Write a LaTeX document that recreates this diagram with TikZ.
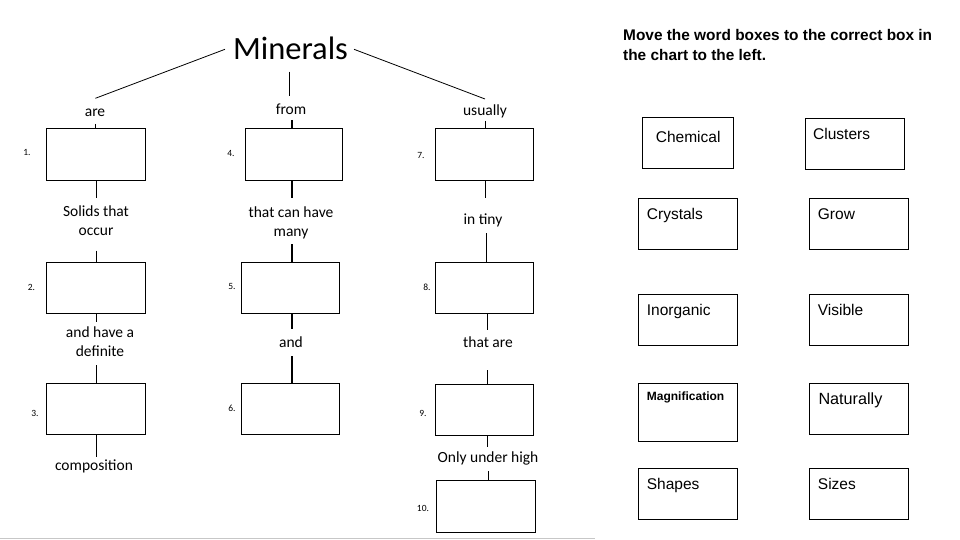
\documentclass[tikz,border=0pt]{standalone}
\usepackage{fontspec}
\setmainfont{Carlito}
\newfontfamily\arialf{Liberation Sans}
\begin{document}
\begin{tikzpicture}[x=1pt,y=-1pt,
  box/.style={draw, line width=1pt, minimum width=98pt, minimum height=51pt, inner sep=0pt},
  lbl/.style={font=\fontsize{15.5}{19}\selectfont, inner sep=0pt, align=center, anchor=base},
  num/.style={font=\fontsize{9.5}{11}\selectfont, inner sep=0pt},
  wtxt/.style={font=\arialf\fontsize{15.5}{18}\selectfont, inner sep=0pt, anchor=base west},
  conn/.style={line width=0.8pt},
  connb/.style={line width=1.7pt}]
\useasboundingbox (0,0) rectangle (960,540);

% title
\node[font=\fontsize{32.5}{36}\selectfont, inner sep=0pt, anchor=base] (minerals) at (290.5,59.3) {Minerals};
\coordinate (mL1) at (225,49.3); \coordinate (mL2) at (95.4,98.3);
\coordinate (mM1) at (289,71.7); \coordinate (mM2) at (289,96);
\coordinate (mR1) at (354,49.3); \coordinate (mR2) at (485,99);
\draw[conn] (mL1) -- (mL2);
\draw[conn] (mM1) -- (mM2);
\draw[conn] (mR1) -- (mR2);

% labels (base = baseline of the last line)
\node[lbl] (are) at (95,116.7) {are};
\node[lbl] (from) at (291,114.3) {from};
\node[lbl] (usually) at (485,116) {usually};
\node[lbl] (solids) at (96,235.7) {Solids that\\occur};
\node[lbl] (tch) at (291,236) {that can have\\many};
\node[lbl] (tiny) at (483,224.3) {in tiny};
\node[lbl] (hav) at (100,356) {and have a\\definite};
\node[lbl] (and) at (291,347.7) {and};
\node[lbl] (tare) at (488,347.7) {that are};
\node[lbl] (comp) at (94,470) {composition};
\node[lbl] (only) at (488,462) {Only under high};

% boxes
\node[box, minimum width=99pt, minimum height=52pt] (b1) at (95.5,155) {};
\node[box, minimum width=99pt] (b2) at (95.5,287.5) {};
\node[box, minimum width=99pt] (b3) at (95.5,408.5) {};
\node[box, minimum width=97pt, minimum height=52pt] (b4) at (293.5,155) {};
\node[box] (b5) at (290,287.5) {};
\node[box] (b6) at (290,408.5) {};
\node[box, minimum height=52pt] (b7) at (484,155) {};
\node[box] (b8) at (484,287.5) {};
\node[box] (b9) at (484,409.5) {};
\node[box, minimum width=98.5pt, minimum height=52pt] (b10) at (485.75,506) {};

% numbers
\node[num] (n1) at (27,152) {1.};
\node[num] (n4) at (231,153) {4.};
\node[num] (n7) at (421,155) {7.};
\node[num] (n2) at (31.5,287) {2.};
\node[num] (n5) at (232,286) {5.};
\node[num] (n8) at (427,287) {8.};
\node[num] (n3) at (35,413) {3.};
\node[num] (n6) at (232,408) {6.};
\node[num] (n9) at (423,413) {9.};
\node[num] (n10) at (423,508) {10.};

% left column connectors
\coordinate (l1) at (95.5,124); \draw[conn] (l1) -- (l1 |- b1.north);
\coordinate (l2) at (96,198);   \draw[conn] (l2 |- b1.south) -- (l2);
\coordinate (l3) at (96,250.7); \draw[conn] (l3) -- (l3 |- b2.north);
\coordinate (l4) at (96,322);   \draw[conn] (l4 |- b2.south) -- (l4);
\coordinate (l5) at (96,365);   \draw[conn] (l5) -- (l5 |- b3.north);
\coordinate (l6) at (96,457);   \draw[conn] (l6 |- b3.south) -- (l6);
% middle column connectors
\coordinate (m1) at (292,120);  \draw[connb] (m1) -- (m1 |- b4.north);
\coordinate (m2) at (292,198);  \draw[connb] (m2 |- b4.south) -- (m2);
\coordinate (m3) at (292,244);  \draw[connb] (m3) -- (m3 |- b5.north);
\coordinate (m4) at (292,329);  \draw[connb] (m4 |- b5.south) -- (m4);
\coordinate (m5) at (292,356);  \draw[connb] (m5) -- (m5 |- b6.north);
% right column connectors
\coordinate (r1) at (485,121);  \draw[conn] (r1) -- (r1 |- b7.north);
\coordinate (r2) at (485,198);  \draw[conn] (r2 |- b7.south) -- (r2);
\coordinate (r3) at (486.5,233); \draw[conn] (r3) -- (r3 |- b8.north);
\coordinate (r4) at (487.5,330); \draw[conn] (r4 |- b8.south) -- (r4);
\coordinate (r5) at (487,370);  \draw[conn] (r5) -- (r5 |- b9.north);
\coordinate (r6) at (487,447);  \draw[conn] (r6 |- b9.south) -- (r6);
\coordinate (r7) at (488,471);  \draw[conn] (r7) -- (r7 |- b10.north);

% bottom grey rule
\draw[black!22, line width=1.5pt] (0,538.5) -- (595,538.5);

% instructions
\node[font=\arialf\bfseries\fontsize{15.4}{20}\selectfont, align=left, anchor=base west, inner sep=0pt] (head) at (623,60.7)
  {Move the word boxes to the correct box in\\the chart to the left.};

% word boxes
\node[box, minimum width=91.4pt] (wChem) at (688,142.8) {};
\node[box, minimum width=99pt] (wClus) at (854.8,143.8) {};
\node[box, minimum width=99pt] (wCrys) at (687.8,223.8) {};
\node[box, minimum width=99pt] (wGrow) at (858.8,223.8) {};
\node[box, minimum width=99pt] (wInor) at (687.8,319.8) {};
\node[box, minimum width=99pt] (wVisi) at (858.8,319.8) {};
\node[box, minimum width=99pt, minimum height=58pt] (wMagn) at (687.8,412.3) {};
\node[box, minimum width=99pt] (wNatu) at (858.8,408.8) {};
\node[box, minimum width=99pt] (wShap) at (687.8,493.8) {};
\node[box, minimum width=99pt] (wSize) at (858.8,493.8) {};

\node[wtxt] (tChem) at (655.7,142.3) {Chemical};
\node[wtxt] (tClus) at (813,139.3) {Clusters};
\node[wtxt] (tCrys) at (646.7,219.3) {Crystals};
\node[wtxt] (tGrow) at (817.7,219.3) {Grow};
\node[wtxt] (tInor) at (646.7,315) {Inorganic};
\node[wtxt] (tVisi) at (817.7,315) {Visible};
\node[wtxt, font=\arialf\bfseries\fontsize{12}{14}\selectfont] (tMagn) at (646.7,400) {Magnification};
\node[wtxt, font=\arialf\fontsize{16.2}{18}\selectfont] (tNatu) at (818.3,404.3) {Naturally};
\node[wtxt] (tShap) at (646.7,489.3) {Shapes};
\node[wtxt] (tSize) at (817.7,489.3) {Sizes};
\end{tikzpicture}
\end{document}
